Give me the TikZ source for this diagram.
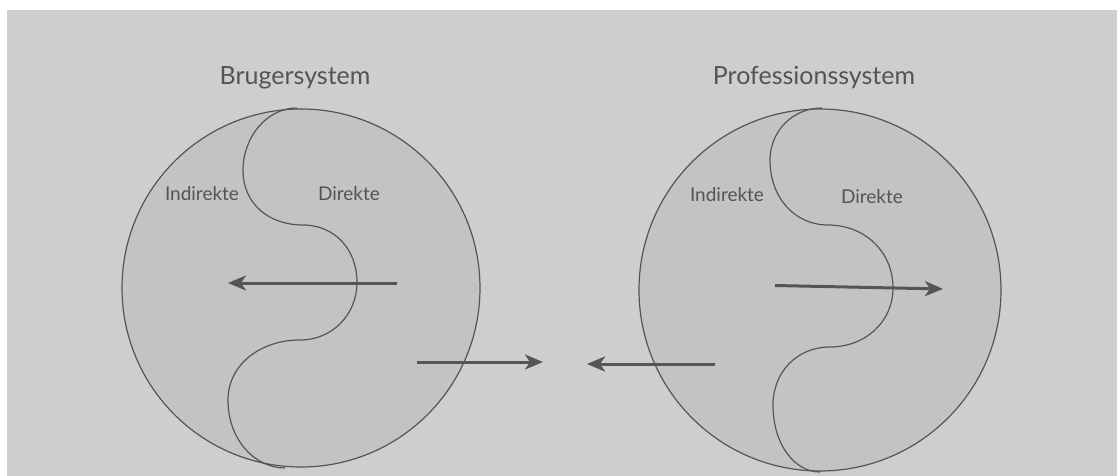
\documentclass[tikz,border=0pt]{standalone}
\usepackage{fontspec}
\setmainfont{Lato}
\usetikzlibrary{arrows.meta}
\definecolor{bg}{HTML}{CECECE}
\definecolor{disc}{HTML}{C3C3C3}
\definecolor{ink}{HTML}{555555}
\definecolor{txt}{HTML}{545454}
\tikzset{
  sys/.style={circle, draw=ink, fill=disc, line width=1.2pt, minimum size=#1, inner sep=0pt},
  wave/.style={draw=ink, line width=1.2pt},
  flow/.style={draw=ink, line width=3pt, -{Stealth[length=18pt,width=15pt,inset=5pt]}},
  title/.style={text=txt, font=\fontsize{25}{28}\selectfont},
  part/.style={text=txt, font=\fontsize{19}{22}\selectfont}
}
\begin{document}
\begin{tikzpicture}[x=1pt,y=-1pt]
\useasboundingbox (0,0) rectangle (1117,476);
\fill[white] (0,0) rectangle (1117,476);
\fill[bg] (7,10) rectangle (1117,476);
% circles
\node[sys=358pt] (L) at (301,288) {};
\node[sys=362pt] (R) at (820,290) {};
% S-curves
\draw[wave] (297,108) .. controls (266,108) and (243,138) .. (243,170)
  .. controls (243,205) and (270,225) .. (303,225)
  .. controls (335,225) and (357,250) .. (357,282)
  .. controls (357,315) and (332,340) .. (300,340)
  .. controls (260,340) and (228,365) .. (228,400)
  .. controls (228,440) and (255,468) .. (285,468);
\draw[wave] (822,108) .. controls (792,108) and (770,132) .. (770,160)
  .. controls (770,198) and (795,225) .. (828,225)
  .. controls (865,225) and (893,252) .. (893,288)
  .. controls (893,322) and (865,347) .. (830,347)
  .. controls (797,347) and (773,372) .. (773,405)
  .. controls (773,445) and (795,472) .. (820,472);
% titles and labels
\node[title] (tL) at (295,78) {Brugersystem};
\node[title] (tR) at (814,78) {Professionssystem};
\node[part] (iL) at (202,194) {Indirekte};
\node[part] (dL) at (349,194) {Direkte};
\node[part] (iR) at (727,195) {Indirekte};
\node[part] (dR) at (872,197) {Direkte};
% arrows
\coordinate (a1) at (397,283);
\coordinate (a2) at (228,283);
\coordinate (b1) at (417,362);
\coordinate (b2) at (543,362);
\coordinate (c1) at (715,364);
\coordinate (c2) at (587,364);
\coordinate (d1) at (775,285.5);
\coordinate (d2) at (943,289);
\draw[flow] (a1) -- (a2);
\draw[flow] (b1) -- (b2);
\draw[flow] (c1) -- (c2);
\draw[flow] (d1) -- (d2);
\end{tikzpicture}
\end{document}
